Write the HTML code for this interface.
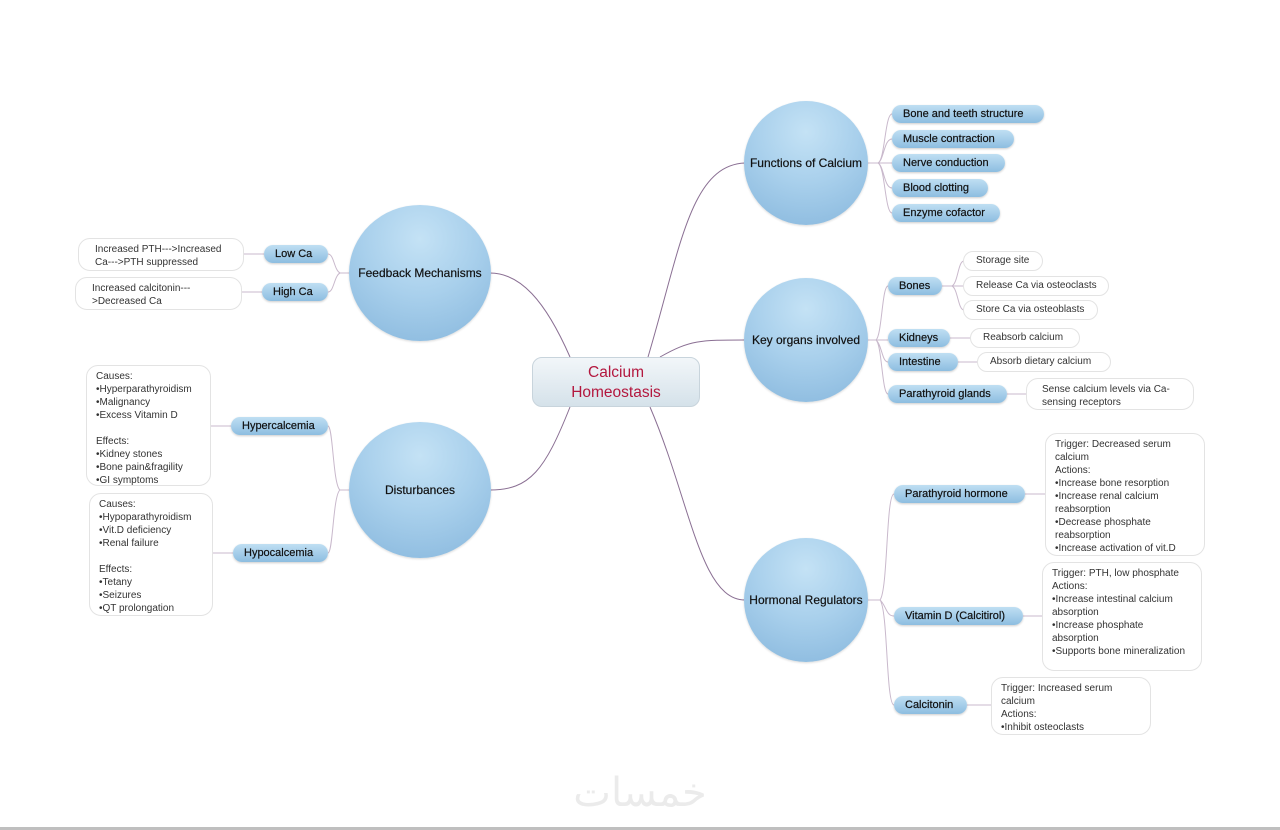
<!DOCTYPE html>
<html><head><meta charset="utf-8"><style>
body{margin:0;width:1280px;height:830px;background:#fff;position:relative;overflow:hidden;font-family:"Liberation Sans",sans-serif;}
.c{position:absolute;border-radius:50%;background:radial-gradient(circle at 50% 25%,#c4e2f5 0%,#a9d0ec 45%,#86b6dc 100%);display:flex;align-items:center;justify-content:center;font-size:12px;color:#111;box-shadow:0 1px 2px rgba(0,0,0,.15);text-align:center;white-space:nowrap;-webkit-text-stroke:0.2px #111}
.p{position:absolute;height:18px;line-height:18px;border-radius:9px;background:linear-gradient(#bfdff3,#8dbde0);font-size:11px;color:#111;text-align:left;padding-left:11px;box-sizing:border-box;box-shadow:0 1px 2px rgba(0,0,0,.2);white-space:nowrap;-webkit-text-stroke:0.2px #111}
.t{position:absolute;background:#fff;border:1.5px solid #e3e3e3;border-radius:12px;font-size:10px;color:#333;line-height:13px;padding:4px 9px;box-sizing:border-box}
</style></head><body>
<svg width="1280" height="830" style="position:absolute;left:0;top:0" fill="none" stroke="#8a6f93" stroke-width="1">
<path d="M648 357 C680 250,690 165,745 163"/>
<path d="M660 357 C690 340,700 340,745 340"/>
<path d="M650 407 C690 500,700 600,745 600"/>
<path d="M570 357 C545 300,520 273,490 273"/>
<path d="M570 407 C545 470,530 490,490 490"/>
<g stroke="#c9b9cc">
<path d="M868 163 H878 M878 163 C885 160,885 114,892 114 M878 163 C884 160,884 139,892 139 M878 163 H892 M878 163 C884 166,884 188,892 188 M878 163 C885 166,885 213,892 213"/>
<path d="M868 340 H876 M876 340 C882 335,882 286,888 286 M876 340 H888 M876 340 C882 345,882 362,888 362 M876 340 C882 345,882 394,888 394"/>
<path d="M942 286 H952 M952 286 C958 283,958 261,964 261 M952 286 H964 M952 286 C958 289,958 310,964 310"/>
<path d="M950 338 H970 M958 362 H978 M1007 394 H1027"/>
<path d="M868 600 H880 M880 600 C888 590,886 494,894 494 M880 600 C886 605,886 616,894 616 M880 600 C888 610,886 705,894 705"/>
<path d="M1025 494 H1045 M1023 616 H1042 M967 705 H991"/>
<path d="M349 273 H340 M340 273 C334 270,334 254,328 254 M340 273 C334 276,334 292,328 292 M264 254 H244 M262 292 H242"/>
<path d="M349 490 H340 M340 490 C333 485,333 426,328 426 M340 490 C333 495,333 553,328 553 M231 426 H211 M233 553 H213"/>
</g>
</svg>
<div style="position:absolute;left:532px;top:357px;width:168px;height:50px;border-radius:10px;background:linear-gradient(#f2f6f9,#d5e2ea);border:1px solid #c8d4dc;box-sizing:border-box;color:#b3173e;font-size:15.5px;text-align:center;line-height:20px;padding-top:5px">Calcium<br>Homeostasis</div>
<div class="c" style="left:744px;top:101px;width:124px;height:124px">Functions of Calcium</div>
<div class="c" style="left:744px;top:278px;width:124px;height:124px">Key organs involved</div>
<div class="c" style="left:744px;top:538px;width:124px;height:124px">Hormonal Regulators</div>
<div class="c" style="left:349px;top:205px;width:142px;height:136px">Feedback Mechanisms</div>
<div class="c" style="left:349px;top:422px;width:142px;height:136px">Disturbances</div>

<div class="p" style="left:892px;top:105px;width:152px">Bone and teeth structure</div>
<div class="p" style="left:892px;top:130px;width:122px">Muscle contraction</div>
<div class="p" style="left:892px;top:154px;width:113px">Nerve conduction</div>
<div class="p" style="left:892px;top:179px;width:96px">Blood clotting</div>
<div class="p" style="left:892px;top:204px;width:108px">Enzyme cofactor</div>

<div class="p" style="left:888px;top:277px;width:54px">Bones</div>
<div class="p" style="left:888px;top:329px;width:62px">Kidneys</div>
<div class="p" style="left:888px;top:353px;width:70px">Intestine</div>
<div class="p" style="left:888px;top:385px;width:119px">Parathyroid glands</div>
<div class="t" style="left:963px;top:251px;width:80px;height:20px;line-height:10px;padding-left:12px">Storage site</div>
<div class="t" style="left:963px;top:276px;width:146px;height:20px;line-height:10px;padding-left:12px">Release Ca via osteoclasts</div>
<div class="t" style="left:963px;top:300px;width:135px;height:20px;line-height:10px;padding-left:12px">Store Ca via osteoblasts</div>
<div class="t" style="left:970px;top:328px;width:110px;height:20px;line-height:10px;padding-left:12px">Reabsorb calcium</div>
<div class="t" style="left:977px;top:352px;width:134px;height:20px;line-height:10px;padding-left:12px">Absorb dietary calcium</div>
<div class="t" style="left:1026px;top:378px;width:168px;height:32px;padding-left:15px">Sense calcium levels via Ca-sensing receptors</div>

<div class="p" style="left:894px;top:485px;width:131px">Parathyroid hormone</div>
<div class="p" style="left:894px;top:607px;width:129px">Vitamin D (Calcitirol)</div>
<div class="p" style="left:894px;top:696px;width:73px">Calcitonin</div>
<div class="t" style="left:1045px;top:433px;width:160px;height:123px">Trigger: Decreased serum calcium<br>Actions:<br>•Increase bone resorption<br>•Increase renal calcium reabsorption<br>•Decrease phosphate reabsorption<br>•Increase activation of vit.D</div>
<div class="t" style="left:1042px;top:562px;width:160px;height:109px">Trigger: PTH, low phosphate<br>Actions:<br>•Increase intestinal calcium absorption<br>•Increase phosphate absorption<br>•Supports bone mineralization</div>
<div class="t" style="left:991px;top:677px;width:160px;height:58px">Trigger: Increased serum calcium<br>Actions:<br>•Inhibit osteoclasts</div>

<div class="p" style="left:264px;top:245px;width:64px">Low Ca</div>
<div class="p" style="left:262px;top:283px;width:66px">High Ca</div>
<div class="t" style="left:78px;top:238px;width:166px;height:33px;padding-left:16px">Increased PTH---&gt;Increased Ca---&gt;PTH suppressed</div>
<div class="t" style="left:75px;top:277px;width:167px;height:33px;padding-left:16px">Increased calcitonin---&gt;Decreased Ca</div>

<div class="p" style="left:231px;top:417px;width:97px">Hypercalcemia</div>
<div class="p" style="left:233px;top:544px;width:95px">Hypocalcemia</div>
<div class="t" style="left:86px;top:365px;width:125px;height:121px">Causes:<br>•Hyperparathyroidism<br>•Malignancy<br>•Excess Vitamin D<br><br>Effects:<br>•Kidney stones<br>•Bone pain&amp;fragility<br>•GI symptoms</div>
<div class="t" style="left:89px;top:493px;width:124px;height:123px">Causes:<br>•Hypoparathyroidism<br>•Vit.D deficiency<br>•Renal failure<br><br>Effects:<br>•Tetany<br>•Seizures<br>•QT prolongation</div>

<div style="position:absolute;left:560px;top:770px;width:160px;text-align:center;font-family:'DejaVu Sans',sans-serif;font-size:40px;color:#ebebeb">خمسات</div>
<div style="position:absolute;left:0;top:827px;width:1280px;height:3px;background:#bfbfbf"></div>
</body></html>
